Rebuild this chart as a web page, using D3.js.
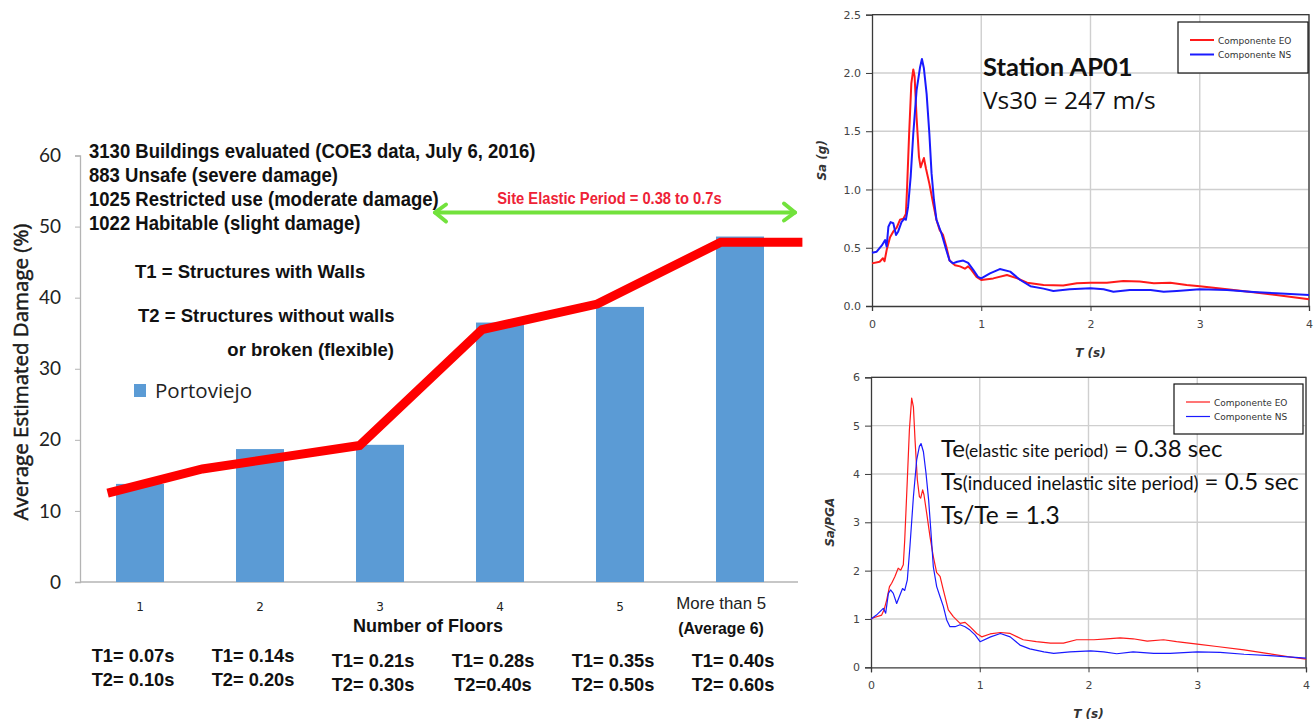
<!DOCTYPE html>
<html><head><meta charset="utf-8">
<script src="https://cdn.jsdelivr.net/npm/d3@7"></script>
<style>
body{margin:0;background:#fff}
svg{display:block}
.narrow{font-family:"Liberation Sans Narrow","Arial Narrow","Liberation Sans",Arial,sans-serif}
.calib{font-family:Lato,"Open Sans",sans-serif}
.open{font-family:"Open Sans",Lato,sans-serif}
.verd{font-family:"DejaVu Sans",Verdana,sans-serif}
</style>
</head><body>
<svg id="chart" width="1315" height="724"></svg>
<script>
// ---- Damage vs. number of floors (Portoviejo) ----
const floors = ["1", "2", "3", "4", "5", "More than 5"];
const damage = [13.8, 18.7, 19.3, 36.5, 38.7, 48.6];
const damageTicks = [0, 10, 20, 30, 40, 50, 60];
// trend line: position along the floor axis (in category widths) and damage %
const trendPos = [0.23, 1.02, 2.33, 3.35, 4.31, 5.34, 6.02];
const trendVal = [12.5, 15.9, 19.2, 35.5, 39.1, 47.8, 47.8];
const t1Labels = ["T1= 0.07s", "T1= 0.14s", "T1= 0.21s", "T1= 0.28s", "T1= 0.35s", "T1= 0.40s"];
const t2Labels = ["T2= 0.10s", "T2= 0.20s", "T2= 0.30s", "T2=0.40s", "T2= 0.50s", "T2= 0.60s"];
const summaryLines = [
  "3130 Buildings evaluated (COE3 data, July 6, 2016)",
  "883 Unsafe (severe damage)",
  "1025 Restricted use (moderate damage)",
  "1022 Habitable (slight damage)"
];

// ---- Response spectra, station AP01 ----
const saTicks = [0, 0.5, 1.0, 1.5, 2.0, 2.5];
const ratioTicks = [0, 1, 2, 3, 4, 5, 6];
const periodTicks = [0, 1, 2, 3, 4];
// Sa (g), component EO: [T (s), Sa]
const saEO = [[0,0.366],[0.07,0.38],[0.10,0.41],[0.115,0.385],[0.134,0.48],[0.165,0.59],[0.195,0.64],[0.225,0.67],[0.256,0.74],[0.287,0.75],[0.31,0.79],[0.32,0.99],[0.34,1.48],[0.36,1.91],[0.378,2.03],[0.39,1.97],[0.408,1.62],[0.43,1.28],[0.445,1.19],[0.463,1.24],[0.475,1.27],[0.494,1.18],[0.525,1.05],[0.56,0.88],[0.59,0.74],[0.62,0.65],[0.65,0.61],[0.68,0.51],[0.71,0.39],[0.76,0.35],[0.805,0.34],[0.85,0.32],[0.88,0.34],[0.91,0.31],[0.957,0.25],[1.0,0.223],[1.11,0.237],[1.235,0.266],[1.33,0.237],[1.42,0.20],[1.57,0.18],[1.75,0.175],[1.875,0.195],[2.0,0.20],[2.15,0.20],[2.3,0.215],[2.45,0.21],[2.58,0.195],[2.73,0.20],[2.88,0.18],[3.0,0.17],[3.25,0.143],[3.49,0.117],[3.7,0.094],[4.0,0.057]];
// Sa (g), component NS
const saNS = [[0,0.457],[0.043,0.466],[0.09,0.52],[0.12,0.566],[0.134,0.51],[0.15,0.68],[0.17,0.72],[0.195,0.71],[0.22,0.61],[0.24,0.64],[0.27,0.72],[0.296,0.75],[0.31,0.74],[0.33,0.85],[0.354,1.11],[0.378,1.48],[0.408,1.85],[0.44,2.05],[0.457,2.12],[0.475,2.04],[0.50,1.82],[0.525,1.48],[0.545,1.14],[0.567,0.91],[0.59,0.74],[0.637,0.62],[0.68,0.48],[0.71,0.39],[0.74,0.366],[0.78,0.38],[0.835,0.39],[0.88,0.37],[0.927,0.31],[0.97,0.25],[1.0,0.237],[1.08,0.28],[1.17,0.317],[1.265,0.295],[1.357,0.223],[1.45,0.17],[1.57,0.149],[1.66,0.129],[1.81,0.143],[2.0,0.152],[2.12,0.143],[2.21,0.123],[2.36,0.137],[2.55,0.137],[2.67,0.123],[2.79,0.129],[3.0,0.143],[3.25,0.137],[3.49,0.12],[3.7,0.109],[4.0,0.094]];
// Sa/PGA, component EO
const ratioEO = [[0,1.0],[0.03,1.03],[0.098,1.08],[0.12,1.19],[0.144,1.39],[0.17,1.67],[0.19,1.74],[0.22,1.88],[0.25,2.05],[0.273,2.01],[0.297,2.12],[0.31,2.63],[0.334,3.88],[0.353,4.91],[0.374,5.57],[0.39,5.39],[0.405,4.70],[0.426,3.88],[0.445,3.53],[0.457,3.50],[0.475,3.67],[0.487,3.57],[0.512,3.19],[0.543,2.70],[0.573,2.29],[0.604,1.96],[0.635,1.88],[0.665,1.60],[0.711,1.19],[0.757,1.05],[0.819,0.91],[0.865,0.93],[0.91,0.84],[0.972,0.70],[1.018,0.63],[1.095,0.69],[1.19,0.72],[1.28,0.70],[1.40,0.57],[1.52,0.53],[1.65,0.50],[1.77,0.50],[1.89,0.57],[2.05,0.57],[2.17,0.59],[2.29,0.61],[2.41,0.59],[2.54,0.54],[2.69,0.57],[2.81,0.53],[3.0,0.48],[3.18,0.43],[3.43,0.36],[3.64,0.29],[3.83,0.22],[4.0,0.17]];
// Sa/PGA, component NS
const ratioNS = [[0,1.0],[0.05,1.08],[0.113,1.22],[0.135,1.12],[0.16,1.53],[0.18,1.60],[0.205,1.53],[0.236,1.32],[0.26,1.46],[0.29,1.63],[0.31,1.59],[0.334,1.81],[0.358,2.50],[0.39,3.53],[0.42,4.29],[0.445,4.57],[0.46,4.63],[0.482,4.46],[0.506,4.01],[0.53,3.46],[0.55,2.84],[0.573,2.08],[0.604,1.67],[0.635,1.46],[0.665,1.26],[0.696,0.98],[0.726,0.84],[0.773,0.84],[0.819,0.88],[0.865,0.84],[0.91,0.77],[0.957,0.67],[1.003,0.53],[1.10,0.63],[1.19,0.70],[1.28,0.63],[1.37,0.46],[1.46,0.38],[1.59,0.32],[1.68,0.29],[1.83,0.32],[2.02,0.34],[2.14,0.32],[2.26,0.28],[2.41,0.32],[2.60,0.29],[2.75,0.29],[3.0,0.32],[3.21,0.31],[3.43,0.27],[3.67,0.24],[4.0,0.19]];
const components = ["Componente EO", "Componente NS"];

const svg = d3.select("#chart");
svg.append("rect").attr("width", 1315).attr("height", 724).attr("fill", "#fff");

// place a text at (x, y), condensed horizontally by sx
function placed(sel, x, y, sx) {
  return sel.attr("transform", `translate(${x},${y}) scale(${sx},1)`);
}

/* =================== left panel: bar + trend =================== */
const L = svg.append("g");
const xBand = d3.scaleBand().domain(floors).range([80, 800]).paddingInner(0.6).paddingOuter(0.3);
const xPos = d3.scaleLinear().domain([0, 6]).range([80, 800]);
const yDmg = d3.scaleLinear().domain([0, 60]).range([582, 155.5]);
const last = floors[floors.length - 1];

// y axis
const yAx = L.append("g").attr("transform", "translate(80,0)")
  .call(d3.axisLeft(yDmg).tickValues(damageTicks).tickSize(5).tickPadding(14));
yAx.select(".domain").attr("stroke", "#b4b4b4").attr("stroke-width", 1.3);
yAx.selectAll(".tick line").attr("stroke", "#b4b4b4");
yAx.selectAll(".tick text").attr("class", "calib").attr("font-size", 19).attr("fill", "#222");

// x axis
const xAx = L.append("g").attr("transform", "translate(0,582)")
  .call(d3.axisBottom(xBand).tickSize(0).tickPadding(20));
xAx.select(".domain").attr("stroke", "#b4b4b4").attr("stroke-width", 1.5).attr("d", "M80,0H798");
xAx.selectAll(".tick text").attr("fill", "#222")
  .attr("class", d => d === last ? "narrow" : "verd")
  .attr("font-size", d => d === last ? 17 : 12)
  .attr("dy", d => d === last ? "0.35em" : "0.71em")
  .attr("x", d => d === last ? -19 : 0)
  .attr("y", d => d === last ? 21 : 20)
  .attr("transform", d => d === last ? "scale(0.99,1)" : null);

// bars
L.append("g").selectAll("rect").data(damage).join("rect")
  .attr("x", (d, i) => xBand(floors[i]))
  .attr("width", xBand.bandwidth())
  .attr("y", d => yDmg(d))
  .attr("height", d => yDmg(0) - yDmg(d))
  .attr("fill", "#5b9bd5");

// red trend line
const trendLine = d3.line().x(d => xPos(d[0])).y(d => yDmg(d[1]));
L.append("path").datum(trendPos.map((p, i) => [p, trendVal[i]]))
  .attr("d", trendLine).attr("fill", "none").attr("stroke", "#ff0000")
  .attr("stroke-width", 9).attr("stroke-linejoin", "miter");

// axis titles
L.append("text").attr("class", "open").attr("transform", "translate(28,372) rotate(-90)")
  .attr("text-anchor", "middle").attr("font-size", 20.5).attr("fill", "#1a1a1a")
  .attr("stroke", "#1a1a1a").attr("stroke-width", 0.5)
  .text("Average Estimated Damage (%)");
L.append("text").attr("class", "narrow").attr("x", 428).attr("y", 632)
  .attr("text-anchor", "middle").attr("font-size", 18).attr("font-weight", 700).attr("fill", "#111")
  .text("Number of Floors");
placed(L.append("text"), xBand(last) + xBand.bandwidth() / 2 - 19, 634, 0.99).attr("class", "narrow")
  .attr("text-anchor", "middle").attr("font-size", 16).attr("font-weight", 700).attr("fill", "#111")
  .text("(Average 6)");

// period labels under each floor group
const per = L.append("g").attr("class", "narrow").attr("font-size", 19).attr("font-weight", 700)
  .attr("fill", "#111").attr("text-anchor", "middle");
floors.forEach((f, i) => {
  const cx = xBand(f) + xBand.bandwidth() / 2 - 7;
  const base = i < 2 ? 662 : 667;
  placed(per.append("text"), cx, base, 0.96).text(t1Labels[i]);
  placed(per.append("text"), cx, base + 24, 0.96).text(t2Labels[i]);
});

// summary text
const sum = L.append("g").attr("class", "narrow").attr("font-weight", 700).attr("fill", "#111");
summaryLines.forEach((s, i) =>
  placed(sum.append("text"), 89, 158 + i * 24, 0.95).attr("font-size", 19.5).text(s));
placed(sum.append("text"), 135, 278, 0.975).attr("font-size", 19).text("T1 = Structures with Walls");
placed(sum.append("text"), 138, 322, 0.975).attr("font-size", 19).text("T2 = Structures without walls");
placed(sum.append("text"), 394, 356, 0.975).attr("font-size", 19).attr("text-anchor", "end").text("or broken (flexible)");

// legend
L.append("rect").attr("x", 134).attr("y", 384).attr("width", 12).attr("height", 13).attr("fill", "#5b9bd5");
L.append("text").attr("class", "open").attr("x", 155).attr("y", 398).attr("font-size", 20.5).attr("fill", "#222").text("Portoviejo");

// site period arrow
const arrowY = 212.5;
const ag = L.append("g").attr("stroke", "#72e23c").attr("stroke-width", 4).attr("fill", "none")
  .attr("stroke-linecap", "round").attr("stroke-linejoin", "round");
ag.append("line").attr("x1", 435).attr("x2", 795).attr("y1", arrowY).attr("y2", arrowY);
ag.append("path").attr("d", `M446,${arrowY - 8}L435,${arrowY}L446,${arrowY + 9}`);
ag.append("path").attr("d", `M784,${arrowY - 9}L795,${arrowY}L784,${arrowY + 8}`);
placed(L.append("text"), 609.5, 203.5, 0.92).attr("class", "narrow").attr("text-anchor", "middle")
  .attr("font-size", 16).attr("font-weight", 700).attr("fill", "#ee2236")
  .text("Site Elastic Period = 0.38 to 0.7s");

/* =================== right panels: spectra =================== */
function spectrum(opts) {
  const { x0, x1, yTop, yBot, yMax, yTicks, fmt, eo, ns, lw, yLabel, yLabelX, xLabelY, legend } = opts;
  const g = svg.append("g");
  const x = d3.scaleLinear().domain([0, 4]).range([x0, x1]);
  const y = d3.scaleLinear().domain([0, yMax]).range([yBot, yTop]);

  // grid
  g.append("g").selectAll("line").data(yTicks.slice(1)).join("line")
    .attr("x1", x0).attr("x2", x1).attr("y1", d => y(d)).attr("y2", d => y(d))
    .attr("stroke", "#cfcfcf").attr("stroke-width", 1.4);
  g.append("g").selectAll("line").data(periodTicks.slice(1)).join("line")
    .attr("x1", d => x(d)).attr("x2", d => x(d)).attr("y1", yTop).attr("y2", yBot)
    .attr("stroke", "#cfcfcf").attr("stroke-width", 1.4);

  // axes
  const ya = g.append("g").attr("transform", `translate(${x0},0)`)
    .call(d3.axisLeft(y).tickValues(yTicks).tickFormat(fmt).tickSize(6).tickPadding(5));
  const xa = g.append("g").attr("transform", `translate(0,${yBot})`)
    .call(d3.axisBottom(x).tickValues(periodTicks).tickFormat(d3.format("d")).tickSize(5).tickPadding(9));
  [ya, xa].forEach(a => {
    a.select(".domain").attr("stroke", "#3a3a3a").attr("stroke-width", 1.3);
    a.selectAll(".tick line").attr("stroke", "#3a3a3a");
    a.selectAll(".tick text").attr("class", "verd").attr("font-size", 11).attr("fill", "#444");
  });
  // frame top and right
  g.append("path").attr("d", `M${x0},${yTop}H${x1}V${yBot}`).attr("fill", "none")
    .attr("stroke", "#3a3a3a").attr("stroke-width", 1.3);

  // curves
  const line = d3.line().x(d => x(d[0])).y(d => y(d[1]));
  g.append("path").datum(eo).attr("d", line).attr("fill", "none").attr("stroke", "#ff1a1a")
    .attr("stroke-width", lw).attr("stroke-linejoin", "round");
  g.append("path").datum(ns).attr("d", line).attr("fill", "none").attr("stroke", "#1a1aff")
    .attr("stroke-width", lw).attr("stroke-linejoin", "round");

  // axis titles
  g.append("text").attr("class", "verd").attr("transform", `translate(${yLabelX},${(yTop + yBot) / 2}) rotate(-90)`)
    .attr("text-anchor", "middle").attr("font-size", 12).attr("font-weight", 700).attr("font-style", "italic")
    .attr("fill", "#333").text(yLabel);
  g.append("text").attr("class", "verd").attr("x", (x0 + x1) / 2).attr("y", xLabelY)
    .attr("text-anchor", "middle").attr("font-size", 12).attr("font-weight", 700).attr("font-style", "italic")
    .attr("fill", "#333").text("T (s)");

  // legend
  const lg = g.append("g");
  lg.append("rect").attr("x", legend.x).attr("y", legend.y).attr("width", legend.w).attr("height", legend.h)
    .attr("fill", "#fff").attr("stroke", "#111").attr("stroke-width", 1.2);
  [["#ff1a1a", 0], ["#1a1aff", 1]].forEach(([c, i]) => {
    const ly = legend.y + legend.row0 + i * 14.5;
    lg.append("line").attr("x1", legend.x + 12).attr("x2", legend.x + 36).attr("y1", ly).attr("y2", ly)
      .attr("stroke", c).attr("stroke-width", lw);
    lg.append("text").attr("class", "verd").attr("x", legend.x + 40).attr("y", ly + 3.5)
      .attr("font-size", 9).attr("fill", "#333").text(components[i]);
  });
  return g;
}

const topPanel = spectrum({
  x0: 872, x1: 1309, yTop: 14.7, yBot: 306, yMax: 2.5, yTicks: saTicks, fmt: d3.format(".1f"),
  eo: saEO, ns: saNS, lw: 2, yLabel: "Sa (g)", yLabelX: 826, xLabelY: 357,
  legend: { x: 1178, y: 22, w: 130, h: 51, row0: 18 }
});
topPanel.append("text").attr("class", "calib").attr("x", 983).attr("y", 76).attr("font-size", 25.5)
  .attr("font-weight", 700).attr("fill", "#111").text("Station AP01");
topPanel.append("text").attr("class", "open").attr("x", 983).attr("y", 109).attr("font-size", 24.5)
  .attr("fill", "#111").text("Vs30 = 247 m/s");

const bottomPanel = spectrum({
  x0: 871, x1: 1306, yTop: 377.3, yBot: 667.3, yMax: 6, yTicks: ratioTicks, fmt: d3.format("d"),
  eo: ratioEO, ns: ratioNS, lw: 1.2, yLabel: "Sa/PGA", yLabelX: 834, xLabelY: 718,
  legend: { x: 1174, y: 384, w: 129, h: 50, row0: 18 }
});
const notes = bottomPanel.append("g").attr("class", "calib").attr("fill", "#111");
const n1 = notes.append("text").attr("x", 941).attr("y", 457).attr("font-size", 24);
n1.append("tspan").text("Te");
n1.append("tspan").attr("font-size", 17.5).text("(elastic site period)");
n1.append("tspan").text(" = 0.38 sec");
const n2 = notes.append("text").attr("x", 941).attr("y", 490).attr("font-size", 24);
n2.append("tspan").text("Ts");
n2.append("tspan").attr("font-size", 18.5).text("(induced inelastic site period)");
n2.append("tspan").text(" = 0.5 sec");
notes.append("text").attr("x", 941).attr("y", 524).attr("font-size", 24.5).text("Ts/Te = 1.3");
</script>
</body></html>
